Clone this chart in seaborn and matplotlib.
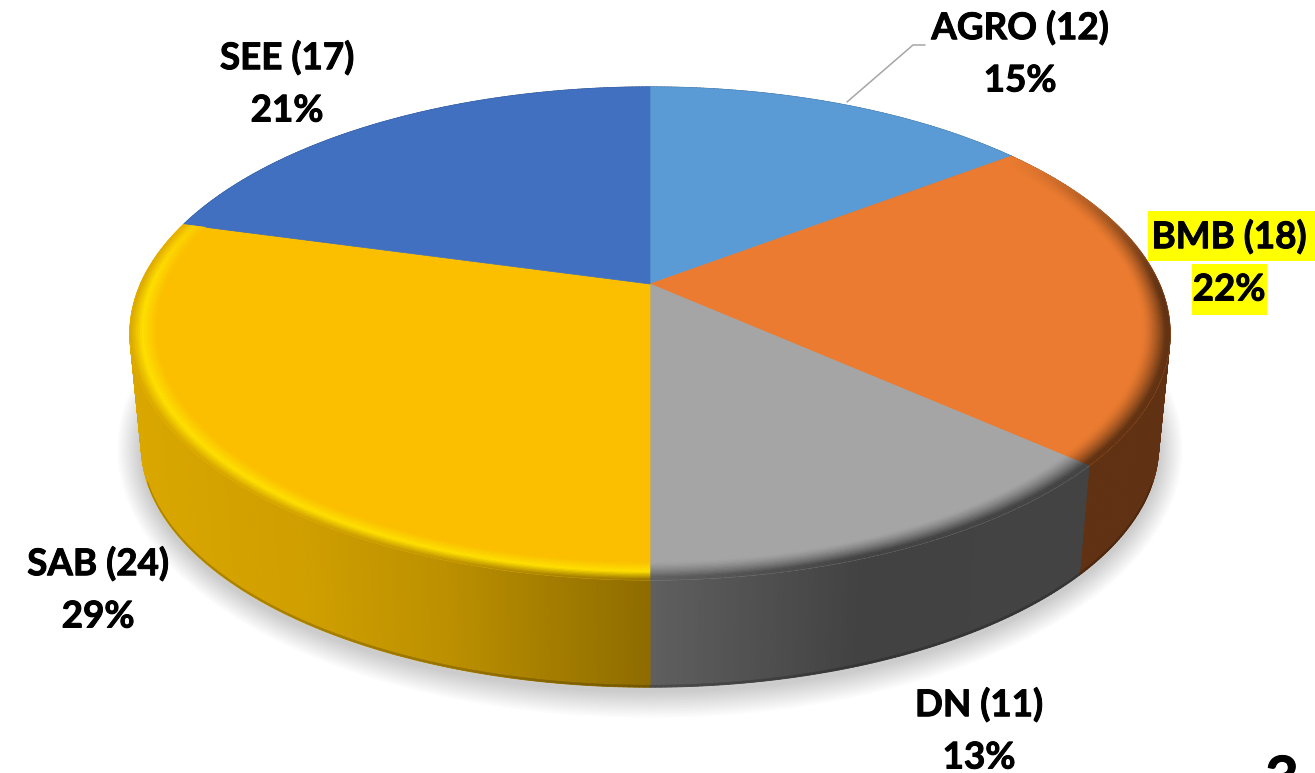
import numpy as np
import seaborn as sb
import matplotlib.pyplot as plt
import matplotlib.patheffects as pe
from matplotlib.collections import PolyCollection
from matplotlib.colors import to_rgb
from matplotlib.patches import Rectangle

# slices, clockwise from 12 o'clock
NAMES = ['AGRO', 'BMB', 'DN', 'SAB', 'SEE']
COUNTS = [12, 18, 11, 24, 17]
PERCENTS = [15, 22, 13, 29, 21]
COLORS = ['#5B9BD5', '#EA7B30', '#A5A5A5', '#FBBF00', '#4170C0']

# shading of the pie wall along x, per slice
WALL_X = {'AGRO': [0, 1315], 'BMB': [0, 1315], 'DN': [650, 760, 860, 1315],
          'SAB': [130, 300, 450, 650], 'SEE': [0, 1315]}
WALL_C = {'AGRO': ['#2F5F8C', '#2F5F8C'], 'BMB': ['#603213', '#603213'],
          'DN': ['#5F5F5F', '#505050', '#424242', '#444444'],
          'SAB': ['#DAA700', '#D09F00', '#BB8F00', '#8E6C00'],
          'SEE': ['#2A4A80', '#2A4A80']}
HIGHLIGHT = {'SAB': '#FFE000'}
NO_BEVEL = ['AGRO', 'SEE']

# label positions (centre of each text line)
LABEL_XY = {'AGRO': (1020, 28), 'BMB': (1229, 237), 'DN': (979, 705),
            'SAB': (98, 564), 'SEE': (287, 58)}
LINE_GAP = 53
YELLOW_BOXES = [(1148, 211, 167, 50), (1192, 264, 75, 51)]

# view of the tilted disc
CX, APEX_Y, A, D, K = 650, 284, 509.5, 236.6, 0.2008
BEVEL = 0.05
my_dpi = 100

sb.set_theme(style='white', palette=sb.color_palette(COLORS))
plt.rcParams['font.family'] = ['Lato', 'DejaVu Sans']


def project(theta, r=1.0):
    X, Y = r * np.sin(theta), r * np.cos(theta)
    w = 1 + K * Y
    return CX + A * X / w, APEX_Y - D * Y / w


def project_bottom(theta):
    x, y = project(theta)
    return CX + (x - CX) * 0.978, APEX_Y + (y - APEX_Y) * 0.98 + 113


def wall_color(name, x):
    stops = np.array([to_rgb(c) for c in WALL_C[name]])
    return [np.interp(x, WALL_X[name], stops[:, i]) for i in range(3)]


fig = plt.figure(figsize=(13.15, 7.73), dpi=my_dpi)
ax = fig.add_axes([0, 0, 1, 1])
ax.set_xlim(0, 1315)
ax.set_ylim(773, 0)
ax.axis('off')

edges = np.cumsum([0] + COUNTS) / sum(COUNTS) * 2 * np.pi

# soft shadow under the disc
th = np.linspace(0, 2 * np.pi, 361)
bx, by = project_bottom(th)
for g in range(34, 0, -2):
    sx = CX + (bx - CX) * (1 + g / 720)
    sy = 450 + (by - 450) * (1 + g / 300) + 4
    ax.fill(sx, sy, color='k', alpha=0.012, lw=0, zorder=1)

# wall
for i, name in enumerate(NAMES):
    tt = np.linspace(edges[i], edges[i + 1], max(int((edges[i + 1] - edges[i]) * 120), 2))
    tx, ty = project(tt)
    ux, uy = project_bottom(tt)
    quads, cols = [], []
    for j in np.argsort(-np.cos(tt[:-1])):
        quads.append([(tx[j], ty[j]), (tx[j + 1], ty[j + 1]), (ux[j + 1], uy[j + 1]), (ux[j], uy[j])])
        cols.append(wall_color(name, (tx[j] + tx[j + 1]) / 2))
    ax.add_collection(PolyCollection(quads, facecolors=cols, edgecolors='face', linewidths=0.8, zorder=2))
    # darker lip along the front of the bottom edge
    front = [j for j in range(len(tt) - 1) if np.cos(tt[j]) < -0.35]
    if front:
        dark = [[c * 0.8 for c in wall_color(name, ux[j])] for j in front]
        segs = [[(ux[j], uy[j]), (ux[j + 1], uy[j + 1]), (ux[j + 1], uy[j + 1] - 2), (ux[j], uy[j] - 2)]
                for j in front]
        ax.add_collection(PolyCollection(segs, facecolors=dark, edgecolors='face', linewidths=0.3, zorder=2.5))

# top face
for i, name in enumerate(NAMES):
    tt = np.linspace(edges[i], edges[i + 1], 200)
    fx, fy = project(tt)
    ax.fill(np.r_[CX, fx], np.r_[APEX_Y, fy], color=COLORS[i], lw=0.5, zorder=3)
    if name in NO_BEVEL:
        continue

    # bevel along the front of the rim
    tt = np.linspace(edges[i], edges[i + 1], max(int((edges[i + 1] - edges[i]) * 90), 2))
    rr = np.linspace(1 - BEVEL, 1, 15)
    face = np.array(to_rgb(COLORS[i]))
    quads, cols = [], []
    for j in range(len(tt) - 1):
        fade = np.clip((0.6 - np.cos(tt[j])) / 0.6, 0, 1)
        if fade == 0:
            continue
        for m in range(len(rr) - 1):
            x0, y0 = project(tt[j], rr[m])
            x1, y1 = project(tt[j + 1], rr[m])
            x2, y2 = project(tt[j + 1], rr[m + 1])
            x3, y3 = project(tt[j], rr[m + 1])
            u = (rr[m] + rr[m + 1] - 2 * (1 - BEVEL)) / (2 * BEVEL)
            wall = np.array(wall_color(name, x0))
            if name in HIGHLIGHT:
                hi = np.array(to_rgb(HIGHLIGHT[name]))
                c = face + (hi - face) * u / 0.55 if u < 0.55 else hi + (wall - hi) * (u - 0.55) / 0.45
            else:
                c = face + (wall - face) * min(u / 0.85, 1) ** 1.4
            c = face + (c - face) * fade
            quads.append([(x0, y0), (x1, y1), (x2, y2), (x3, y3)])
            cols.append(np.clip(c, 0, 1))
    if quads:
        ax.add_collection(PolyCollection(quads, facecolors=cols, edgecolors='face', linewidths=0.4, zorder=4))

# yellow marker behind the BMB label
for bx0, by0, bw, bh in YELLOW_BOXES:
    ax.add_patch(Rectangle((bx0, by0), bw, bh, facecolor='#FFFF00', edgecolor='none', zorder=5))

# labels
stroke = [pe.withStroke(linewidth=0.7, foreground='k')]
for name, n, pct in zip(NAMES, COUNTS, PERCENTS):
    x, y = LABEL_XY[name]
    ax.text(x, y, '{} ({})'.format(name, n), ha='center', va='center', fontsize=26.5,
            fontweight='bold', color='k', path_effects=stroke, zorder=6)
    ax.text(x, y + LINE_GAP, '{}%'.format(pct), ha='center', va='center', fontsize=26.5,
            fontweight='bold', color='k', path_effects=stroke, zorder=6)

# leader line of AGRO
ax.plot([847, 913, 925], [102, 45, 45], color='#A6A6A6', lw=1.1, zorder=5)

# page number cut off by the edge
ax.text(1282, 755, '3', ha='center', va='top', fontsize=42, fontweight='bold', color='k',
        path_effects=stroke, zorder=6)

plt.savefig('out.png', dpi=my_dpi)
